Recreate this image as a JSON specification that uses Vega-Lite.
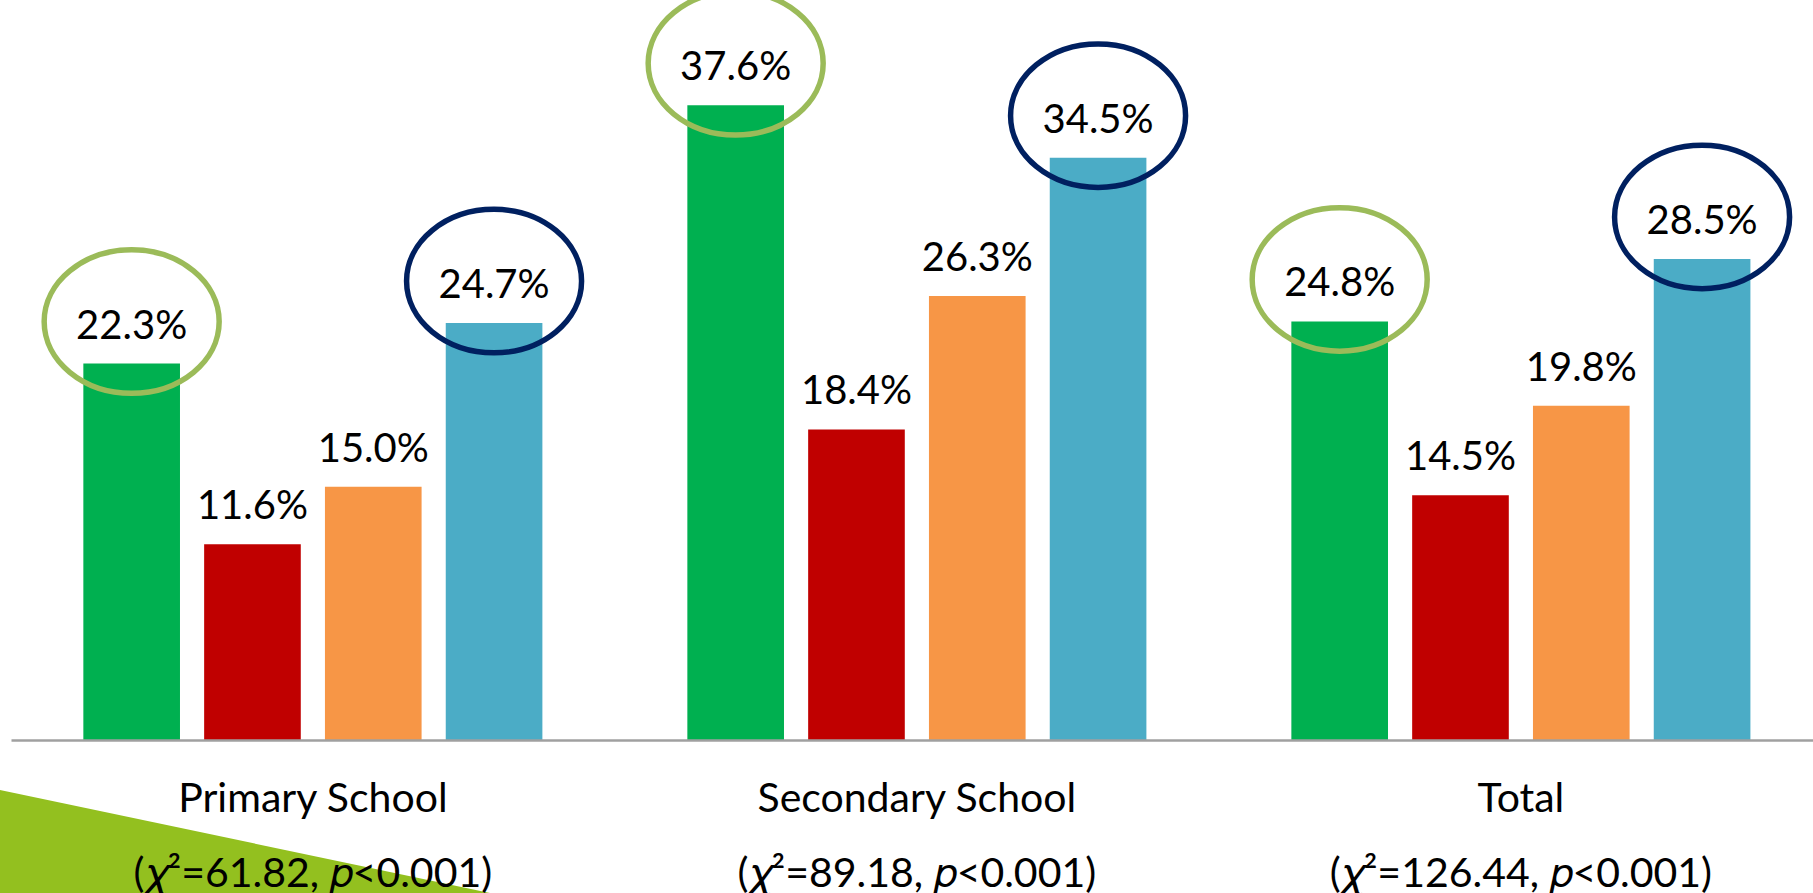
{
  "$schema": "https://vega.github.io/schema/vega-lite/v6.json",
  "autosize": {"type": "none"},
  "width": 1802,
  "height": 740,
  "padding": {"left": 11, "top": 0, "right": 0, "bottom": 153},
  "background": "white",
  "config": {"view": {"stroke": null}, "font": "Lato"},
  "data": {
    "values": [
      {"group": "Primary School|(𝜒²=61.82, 𝑝<0.001)", "series": "Series 1", "value": 0.223},
      {"group": "Primary School|(𝜒²=61.82, 𝑝<0.001)", "series": "Series 2", "value": 0.116},
      {"group": "Primary School|(𝜒²=61.82, 𝑝<0.001)", "series": "Series 3", "value": 0.150},
      {"group": "Primary School|(𝜒²=61.82, 𝑝<0.001)", "series": "Series 4", "value": 0.247},
      {"group": "Secondary School|(𝜒²=89.18, 𝑝<0.001)", "series": "Series 1", "value": 0.376},
      {"group": "Secondary School|(𝜒²=89.18, 𝑝<0.001)", "series": "Series 2", "value": 0.184},
      {"group": "Secondary School|(𝜒²=89.18, 𝑝<0.001)", "series": "Series 3", "value": 0.263},
      {"group": "Secondary School|(𝜒²=89.18, 𝑝<0.001)", "series": "Series 4", "value": 0.345},
      {"group": "Total|(𝜒²=126.44, 𝑝<0.001)", "series": "Series 1", "value": 0.248},
      {"group": "Total|(𝜒²=126.44, 𝑝<0.001)", "series": "Series 2", "value": 0.145},
      {"group": "Total|(𝜒²=126.44, 𝑝<0.001)", "series": "Series 3", "value": 0.198},
      {"group": "Total|(𝜒²=126.44, 𝑝<0.001)", "series": "Series 4", "value": 0.285}
    ]
  },
  "layer": [
    {
      "transform": [{"filter": "datum.series === 'Series 1' && indexof(datum.group, 'Primary') === 0"}],
      "mark": {"type": "point", "shape": "M -3.329 0.458 L 2.104 1.6 L -3.329 1.6 Z", "size": 40000, "filled": true, "fill": "#93C01F", "opacity": 1, "strokeWidth": 0},
      "encoding": {
        "x": {"field": "group", "type": "nominal", "sort": null,
          "scale": {"paddingInner": 0.2, "paddingOuter": 0.0917, "align": 0.544},
          "axis": {"title": null, "labelAngle": 0, "labelExpr": "split(datum.value, '|')", "labelFont": "Lato", "labelFontSize": 41, "labelColor": "#000000", "labelBaseline": "alphabetic", "labelPadding": 71, "labelLineHeight": 75, "labelLimit": 2000, "labelOverlap": false, "labelBound": false, "ticks": false, "tickSize": 0, "domainColor": "#A0A0A0", "domainWidth": 2.5, "grid": false, "zindex": 1}},
        "y": {"datum": 0, "type": "quantitative", "scale": {"domain": [0, 0.4384], "nice": false}, "axis": null}
      }
    },
    {
      "mark": {"type": "bar"},
      "encoding": {
        "x": {"field": "group", "type": "nominal", "sort": null},
        "xOffset": {"field": "series", "type": "nominal", "sort": null, "scale": {"paddingInner": 0.2, "paddingOuter": 0.1}},
        "y": {"field": "value", "type": "quantitative"},
        "color": {"field": "series", "type": "nominal", "legend": null,
          "scale": {"domain": ["Series 1", "Series 2", "Series 3", "Series 4"], "range": ["#00B050", "#C00000", "#F79646", "#4BACC6"]}}
      }
    },
    {
      "transform": [{"filter": "datum.series === 'Series 1' || datum.series === 'Series 4'"}],
      "mark": {"type": "point", "shape": "M -1 0 C -1 -0.4529 -0.5523 -0.82 0 -0.82 C 0.5523 -0.82 1 -0.4529 1 0 C 1 0.4529 0.5523 0.82 0 0.82 C -0.5523 0.82 -1 0.4529 -1 0 Z", "size": 30625, "filled": false, "strokeWidth": 5.5, "opacity": 1, "yOffset": -42},
      "encoding": {
        "x": {"field": "group", "type": "nominal", "sort": null},
        "xOffset": {"field": "series", "type": "nominal", "sort": null},
        "y": {"field": "value", "type": "quantitative"},
        "stroke": {"condition": {"test": "datum.series === 'Series 1'", "value": "#9BBB59"}, "value": "#002060"}
      }
    },
    {
      "mark": {"type": "text", "dy": -25, "baseline": "alphabetic", "align": "center", "fontSize": 40, "font": "Lato", "color": "#000000"},
      "encoding": {
        "x": {"field": "group", "type": "nominal", "sort": null},
        "xOffset": {"field": "series", "type": "nominal", "sort": null},
        "y": {"field": "value", "type": "quantitative"},
        "text": {"field": "value", "type": "quantitative", "format": ".1%"}
      }
    }
  ]
}
